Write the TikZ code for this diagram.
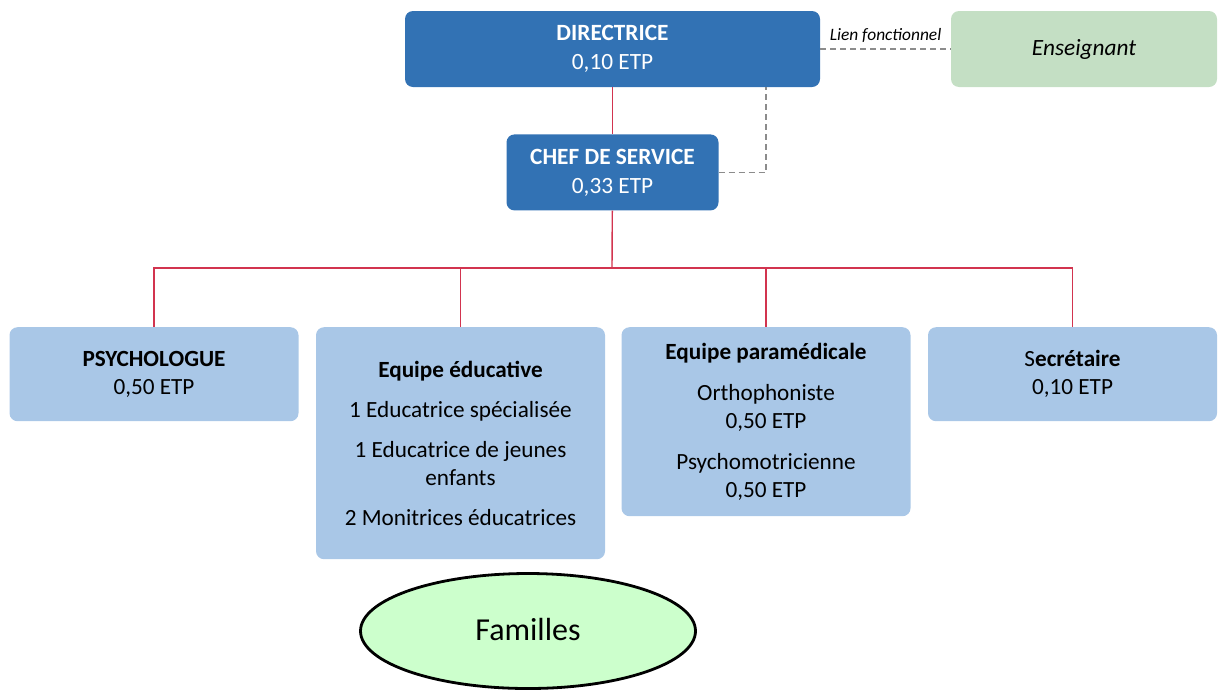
\documentclass[tikz,border=0pt]{standalone}
\usepackage{fontspec}
\setmainfont{Carlito}
\usepackage{xcolor}
\usetikzlibrary{positioning,shapes.geometric}

\definecolor{bleufonce}{HTML}{3272B4}
\definecolor{bleuclair}{HTML}{A9C7E7}
\definecolor{vertpale}{HTML}{C4DFC4}
\definecolor{vertfam}{HTML}{CCFFCC}
\definecolor{rouge}{HTML}{D2344F}
\definecolor{gris}{HTML}{8C8C8C}

\begin{document}
\begin{tikzpicture}[x=1pt, y=-1pt,
  direction/.style={rectangle, rounded corners=8pt, fill=bleufonce, text=white, align=center,
    inner sep=0pt, minimum height=76pt, font=\fontsize{23.3}{29}\selectfont},
  pole/.style={rectangle, rounded corners=8pt, fill=bleuclair, align=flush center, anchor=north,
    inner sep=0pt, text width=289pt, font=\fontsize{23.2}{28}\selectfont},
  externe/.style={rectangle, rounded corners=8pt, fill=vertpale, inner sep=0pt,
    minimum width=266pt, minimum height=76pt, font=\fontsize{23.3}{29}\selectfont\itshape},
  hier/.style={draw=rouge, line width=1.4pt},
  lien/.style={draw=gris, line width=1.8pt, dash pattern=on 6pt off 4pt}]

  \useasboundingbox (0,0) rectangle (1222,697);

  \node[direction, minimum width=415pt] (dir) at (612.5,49) {\textbf{DIRECTRICE}\\0,10 ETP};
  \node[direction, minimum width=212pt, below=47pt of dir] (chef) {\textbf{CHEF DE SERVICE}\\0,33 ETP};
  \node[externe] (ens) at (1084,49) {Enseignant};

  \node[pole, minimum height=94pt] (psy) at (154,327) {\textbf{PSYCHOLOGUE}\\0,50 ETP};
  \node[pole, minimum height=232pt] (educ) at (460.5,327)
    {\textbf{Equipe éducative}\\[12pt] 1 Educatrice spécialisée\\[12pt]
     1 Educatrice de jeunes\\enfants\\[12pt] 2 Monitrices éducatrices};
  \node[pole, minimum height=189pt] (para) at (766,327)
    {\textbf{Equipe paramédicale}\\[13pt] Orthophoniste\\0,50 ETP\\[13pt]
     Psychomotricienne\\0,50 ETP};
  \node[pole, minimum height=94pt] (secr) at (1072.5,327) {S\textbf{ecrétaire}\\0,10 ETP};

  \node[ellipse, draw=black, line width=2.8pt, fill=vertfam, inner sep=0pt,
    minimum width=335pt, minimum height=115pt, font=\fontsize{32}{36}\selectfont] (fam) at (528,631) {\raisebox{4pt}{Familles}};

  \coordinate (bus) at (612,268);

  \path[hier]
    (dir) edge (chef)
    (chef) edge (bus);
  \draw[hier] (bus) -| (psy);
  \draw[hier] (bus) -| (educ);
  \draw[hier] (bus) -| (para);
  \draw[hier] (bus) -| (secr);

  \draw[lien] (dir) -- node[above=2pt, text=black, font=\fontsize{17.4}{20}\selectfont\itshape]{Lien fonctionnel} (ens);
  \draw[lien] (chef.east) -| (dir.south -| para);

\end{tikzpicture}
\end{document}
